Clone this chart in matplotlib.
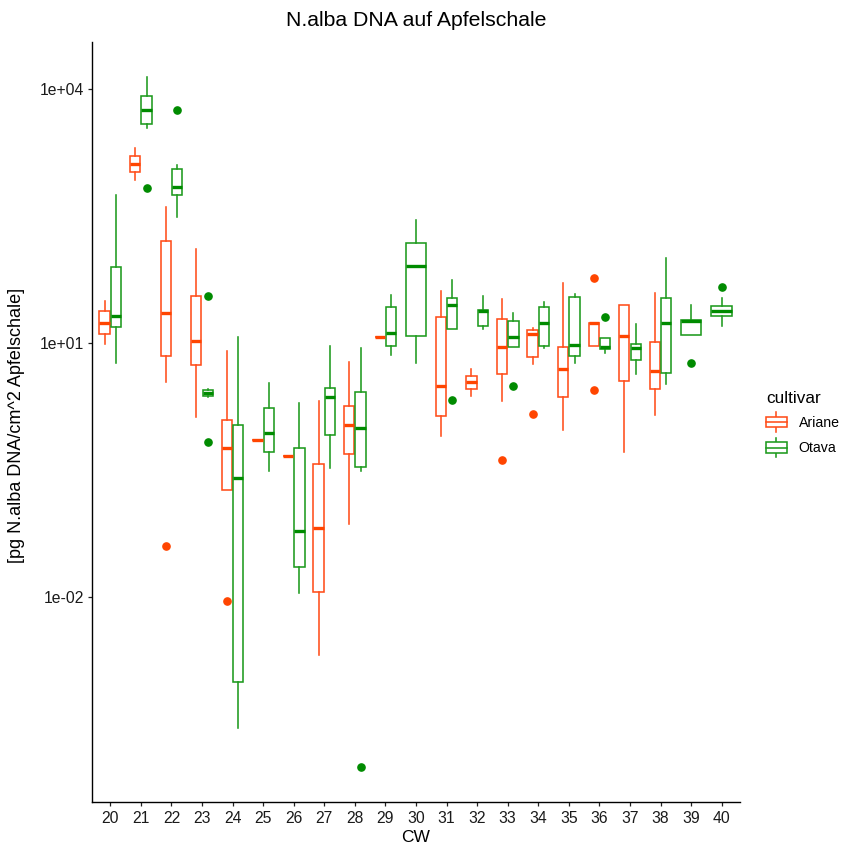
import numpy as np
import matplotlib
matplotlib.use("Agg")
import matplotlib.pyplot as plt
from matplotlib.patches import Patch, Rectangle
from matplotlib.lines import Line2D
from matplotlib.legend_handler import HandlerBase

plt.rcParams['font.family'] = ['Liberation Sans', 'DejaVu Sans']

# ---------------- data ----------------
cw = list(range(20, 41))

ariane_cw     = [20, 21, 22, 23, 24, 25, 26, 27, 28, 29, 31, 32, 33, 34, 35, 36, 37, 38]
ariane_whislo = [9.7, 855, 3.5, 1.33, 0.186, 0.726, 0.463, 0.00207, 0.0738, 11.7, 0.81, 2.39, 2.06, 5.66, 0.953, 9.3, 0.516, 1.42]
ariane_q1     = [13, 1052, 7.1, 5.5, 0.186, 0.726, 0.463, 0.0116, 0.493, 11.7, 1.37, 2.87, 4.31, 6.9, 2.31, 9.3, 3.6, 2.87]
ariane_med    = [17.5, 1318, 22.5, 10.6, 0.58, 0.726, 0.463, 0.0662, 1.08, 11.7, 3.12, 3.47, 8.9, 13, 4.9, 17.3, 12, 4.68]
ariane_q3     = [24, 1638, 160, 36, 1.24, 0.726, 0.463, 0.376, 1.83, 11.7, 20.6, 4.12, 19.2, 14.5, 9.1, 17.3, 28, 10.4]
ariane_whishi = [31.5, 2018, 403, 131, 7.98, 0.726, 0.463, 2.09, 5.93, 11.7, 41.3, 4.94, 33.6, 15, 51, 17.3, 28, 38.8]
ariane_fliers = {22: [0.0406], 24: [0.00914], 33: [0.419], 34: [1.45], 36: [2.82, 58.8]}

otava_cw     = [20, 21, 22, 23, 24, 25, 26, 27, 28, 29, 30, 31, 32, 33, 34, 35, 36, 37, 38, 39, 40]
otava_whislo = [5.9, 3473, 311, 2.31, 0.000284, 0.313, 0.01135, 0.334, 0.313, 7.2, 5.77, 14.7, 14.9, 9.1, 8.7, 5.77, 7.6, 4.3, 3.27, 12.5, 16]
otava_q1     = [15.6, 3900, 569, 2.39, 0.00101, 0.516, 0.0228, 0.824, 0.349, 9.2, 12.1, 14.7, 16.1, 9.1, 9.3, 7.0, 8.5, 6.3, 4.4, 12.5, 20.8]
otava_med    = [21, 5600, 701, 2.61, 0.255, 0.863, 0.0605, 2.33, 0.989, 13.3, 80.7, 28.6, 24, 11.8, 17.2, 9.5, 8.9, 8.7, 17.5, 18.3, 24]
otava_q3     = [79, 8340, 1142, 2.79, 1.09, 1.71, 0.58, 2.97, 2.67, 26.8, 152, 34.5, 24.7, 18.3, 27, 35.5, 11.4, 9.7, 33.9, 18.8, 27.3]
otava_whishi = [569, 14070, 1283, 2.91, 11.7, 3.35, 1.95, 9.3, 8.73, 37.5, 283, 55.2, 35.8, 23, 31, 37.8, 11.4, 16.7, 102, 28.3, 34.5]
otava_fliers = {21: [682], 22: [5660], 23: [0.687, 36.5], 28: [0.0000979],
                31: [2.13], 33: [3.12], 36: [20.4], 39: [5.8], 40: [45.7]}

cultivars = ["Ariane", "Otava"]
col_box = {"Ariane": "#FF4E1A", "Otava": "#1E9A1E"}
col_pt = {"Ariane": "#FF4500", "Otava": "#008B00"}

# ---------------- figure ----------------
W, H = 844, 848
fig = plt.figure(figsize=(W / 100, H / 100), dpi=100)
L, R, T, B = 92, 740, 42, 802
ax = fig.add_axes([L / W, 1 - B / H, (R - L) / W, (B - T) / H])

groups = {
    "Ariane": (ariane_cw, ariane_whislo, ariane_q1, ariane_med, ariane_q3, ariane_whishi, ariane_fliers),
    "Otava": (otava_cw, otava_whislo, otava_q1, otava_med, otava_q3, otava_whishi, otava_fliers),
}

total_w = 0.75
pad = 0.9
all_vals = []
for name in cultivars:
    cws, wl, q1, md, q3, wh, fl = groups[name]
    other = groups["Otava" if name == "Ariane" else "Ariane"][0]
    stats, pos, widths = [], [], []
    for i, c in enumerate(cws):
        fliers = fl.get(c, [])
        stats.append(dict(med=md[i], q1=q1[i], q3=q3[i], whislo=wl[i], whishi=wh[i], fliers=fliers))
        base = cw.index(c) + 1
        if c in other:
            off = -total_w / 4 if name == "Ariane" else total_w / 4
            pos.append(base + off)
            widths.append(total_w / 2 * pad)
        else:
            pos.append(base)
            widths.append(total_w * pad)
        all_vals += [wl[i], wh[i]] + list(fliers)
    ax.bxp(stats, positions=pos, widths=widths, showcaps=False, patch_artist=True,
           boxprops=dict(facecolor="none", edgecolor=col_box[name], linewidth=1.15),
           whiskerprops=dict(color=col_box[name], linewidth=1.15),
           medianprops=dict(color=col_pt[name], linewidth=2.4, solid_capstyle="butt"),
           flierprops=dict(marker="o", markersize=5.2, markerfacecolor=col_pt[name],
                           markeredgecolor=col_pt[name], linestyle="none"),
           manage_ticks=False)

ax.set_yscale("log")
lo, hi = np.log10(min(all_vals)), np.log10(max(all_vals))
span = hi - lo
ax.set_ylim(10 ** (lo - 0.05 * span), 10 ** (hi + 0.05 * span))
ax.set_xlim(0.4, len(cw) + 0.6)

ax.set_xticks(range(1, len(cw) + 1))
ax.set_xticklabels([str(c) for c in cw])
ax.set_yticks([1e-2, 1e1, 1e4])
ax.set_yticklabels(["1e-02", "1e+01", "1e+04"])
ax.yaxis.set_minor_locator(matplotlib.ticker.NullLocator())
ax.tick_params(axis="both", which="major", length=3.2, width=0.9, labelsize=11.3,
               colors="#222222", labelcolor="#1a1a1a", pad=2.5)
ax.tick_params(axis="x", pad=3.5)

for s in ["top", "right"]:
    ax.spines[s].set_visible(False)
for s in ["left", "bottom"]:
    ax.spines[s].set_linewidth(1.0)
    ax.spines[s].set_color("black")

ax.set_xlabel("CW", fontsize=12.5, labelpad=2.5)
fig.text(17 / W, 1 - 425 / H, "[pg N.alba DNA/cm^2 Apfelschale]", rotation=90,
         ha="center", va="center", fontsize=13.0)
fig.text(((L + R) / 2) / W, 1 - 20 / H, "N.alba DNA auf Apfelschale", ha="center",
         va="center", fontsize=15.3)


class BoxKey(HandlerBase):
    def create_artists(self, legend, orig_handle, xdescent, ydescent, width, height, fontsize, trans):
        c = orig_handle.get_edgecolor()
        x0, y0 = -xdescent, -ydescent
        bh = height * 0.56
        by = y0 + (height - bh) / 2
        rect = Rectangle((x0, by), width, bh, facecolor="white", edgecolor=c, lw=1.15, transform=trans)
        med = Line2D([x0, x0 + width], [y0 + height / 2] * 2, color=c, lw=1.15, transform=trans)
        w1 = Line2D([x0 + width / 2] * 2, [y0, by], color=c, lw=1.15, transform=trans)
        w2 = Line2D([x0 + width / 2] * 2, [by + bh, y0 + height], color=c, lw=1.15, transform=trans)
        return [w1, w2, rect, med]


handles = [Patch(edgecolor=col_box[n], facecolor="white", label=n) for n in cultivars]
leg = ax.legend(handles=handles, title="cultivar", handler_map={Patch: BoxKey()},
                loc="center left", bbox_to_anchor=((766 - L) / (R - L), 0.497),
                frameon=False, borderpad=0, borderaxespad=0, fontsize=10.2,
                title_fontsize=12.3, handlelength=1.45, handleheight=1.75,
                handletextpad=0.85, labelspacing=0.42, alignment="left")

fig.savefig("out.png", dpi=100)
